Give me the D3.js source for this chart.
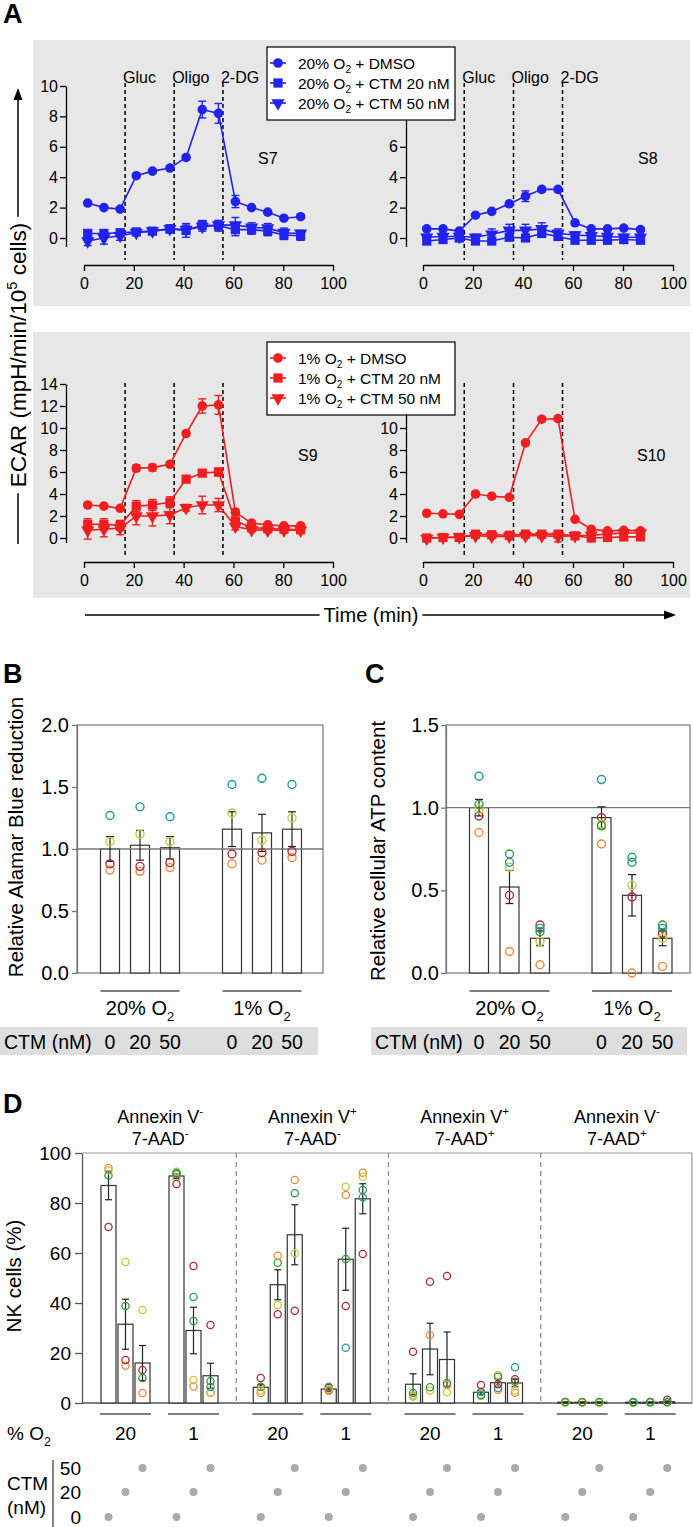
<!DOCTYPE html>
<html><head><meta charset="utf-8">
<script src="https://cdn.jsdelivr.net/npm/d3@7"></script>
<style>body{margin:0;background:#fff} svg{display:block;font-family:"Liberation Sans",Arial,Helvetica,sans-serif}</style>
</head><body><svg id="c" width="693" height="1527"></svg>
<script>
// ---------------- DATA ----------------
// Panel A (ECAR time course)
const times = [1.5, 8, 14.5, 21, 27.5, 34.5, 41, 47.5, 54, 60.8, 67.3, 73.8, 80.3, 87];
const injTimes = [16.5, 36.2, 55.8];
const injNames = ["Gluc", "Oligo", "2-DG"];
const xTicksA = [0, 20, 40, 60, 80, 100];
const yTicksTopLeft = [0, 2, 4, 6, 8, 10];
const yTicksTopRight = [0, 2, 4, 6];          // 8 and 10 sit under the legend
const yTicksBottomLeft = [0, 2, 4, 6, 8, 10, 12, 14];
const yTicksBottomRight = [0, 2, 4, 6, 8, 10]; // 12 and 14 sit under the legend
const legendSuffix = [" + DMSO", " + CTM 20 nM", " + CTM 50 nM"];

const s7Dmso = [2.3, 2.0, 1.9, 4.1, 4.4, 4.6, 5.3, 8.45, 8.2, 2.4, 2.0, 1.7, 1.3, 1.4];
const s7DmsoErr = [0.1, 0.1, 0.1, 0.1, 0.1, 0.1, 0.15, 0.55, 0.65, 0.4, 0.1, 0.1, 0.1, 0.1];
const s7Ctm20 = [0.3, 0.3, 0.35, 0.4, 0.45, 0.6, 0.5, 0.85, 0.8, 0.55, 0.55, 0.45, 0.2, 0.15];
const s7Ctm20Err = [0.25, 0.25, 0.2, 0.15, 0.2, 0.25, 0.45, 0.3, 0.35, 0.4, 0.3, 0.3, 0.3, 0.3];
const s7Ctm50 = [-0.2, 0.0, 0.15, 0.35, 0.45, 0.6, 0.55, 0.75, 0.85, 0.85, 0.7, 0.65, 0.35, 0.3];
const s7Ctm50Err = [0.3, 0.4, 0.3, 0.15, 0.2, 0.25, 0.3, 0.3, 0.3, 0.5, 0.3, 0.3, 0.3, 0.2];

const s8Dmso = [0.6, 0.6, 0.45, 1.5, 1.75, 2.25, 2.75, 3.2, 3.2, 1.0, 0.6, 0.6, 0.65, 0.55];
const s8DmsoErr = [0.1, 0.1, 0.1, 0.1, 0.1, 0.15, 0.35, 0.15, 0.15, 0.15, 0.1, 0.1, 0.1, 0.1];
const s8Ctm20 = [-0.2, -0.1, 0.0, -0.2, -0.2, 0.05, 0.0, 0.3, 0.1, -0.15, -0.15, -0.15, -0.1, -0.15];
const s8Ctm20Err = [0.2, 0.2, 0.2, 0.2, 0.2, 0.2, 0.2, 0.25, 0.2, 0.2, 0.2, 0.2, 0.2, 0.2];
const s8Ctm50 = [0.05, 0.1, 0.1, 0.05, 0.25, 0.5, 0.5, 0.6, 0.3, 0.2, 0.15, 0.1, 0.05, 0.05];
const s8Ctm50Err = [0.2, 0.2, 0.2, 0.2, 0.35, 0.4, 0.4, 0.4, 0.3, 0.2, 0.2, 0.2, 0.2, 0.2];

const s9Dmso = [3.0, 2.9, 2.7, 6.35, 6.4, 6.7, 9.5, 12.0, 12.1, 2.35, 1.35, 1.2, 1.1, 1.1];
const s9DmsoErr = [0.15, 0.15, 0.15, 0.3, 0.3, 0.2, 0.2, 0.65, 0.85, 0.3, 0.2, 0.2, 0.2, 0.2];
const s9Ctm20 = [1.25, 1.25, 1.15, 2.9, 3.0, 3.25, 5.35, 5.9, 6.0, 1.55, 0.95, 0.85, 0.8, 0.75];
const s9Ctm20Err = [0.5, 0.5, 0.45, 0.5, 0.5, 0.5, 0.3, 0.3, 0.35, 0.3, 0.2, 0.2, 0.2, 0.2];
const s9Ctm50 = [0.7, 0.8, 0.9, 2.0, 2.0, 2.1, 2.75, 3.0, 3.0, 1.05, 0.75, 0.7, 0.7, 0.7];
const s9Ctm50Err = [0.8, 0.7, 0.6, 0.8, 0.9, 0.8, 0.3, 0.8, 0.6, 0.3, 0.2, 0.2, 0.2, 0.2];

const s10Dmso = [2.25, 2.2, 2.15, 4.0, 3.8, 3.7, 8.65, 10.8, 10.85, 1.7, 0.8, 0.65, 0.7, 0.65];
const s10DmsoErr = [0.1, 0.1, 0.1, 0.15, 0.15, 0.15, 0.2, 0.2, 0.2, 0.15, 0.1, 0.1, 0.1, 0.1];
const s10Ctm20 = [0.0, 0.05, 0.05, 0.35, 0.3, 0.25, 0.35, 0.35, 0.35, 0.2, 0.0, 0.05, 0.1, 0.1];
const s10Ctm20Err = [0.15, 0.15, 0.15, 0.15, 0.15, 0.15, 0.15, 0.15, 0.2, 0.15, 0.15, 0.15, 0.15, 0.15];
const s10Ctm50 = [-0.05, 0.05, 0.1, 0.2, 0.15, 0.15, 0.2, 0.2, 0.15, 0.2, 0.25, 0.35, 0.45, 0.45];
const s10Ctm50Err = [0.15, 0.15, 0.15, 0.15, 0.15, 0.15, 0.15, 0.2, 0.5, 0.15, 0.15, 0.15, 0.15, 0.15];

// Panels B & C
const oxyGroups = ["20", "1"];
const ctmLevels = ["0", "20", "50"];
const bMean = [1.00, 1.03, 1.01, 1.16, 1.13, 1.16];
const bSem = [0.10, 0.12, 0.09, 0.14, 0.15, 0.14];
const bTeal = [1.27, 1.34, 1.26, 1.52, 1.57, 1.52];
const bYellow = [1.06, 1.12, 1.06, 1.29, 1.07, 1.25];
const bRed = [0.88, 0.86, 0.89, 0.96, 0.97, 0.98];
const bOrange = [0.83, 0.82, 0.85, 0.88, 0.91, 0.93];
const bTicks = [0, 0.5, 1.0, 1.5, 2.0];

const cMean = [1.00, 0.52, 0.21, 0.94, 0.47, 0.21];
const cSem = [0.05, 0.10, 0.045, 0.065, 0.125, 0.045];
const cTeal = [1.19, 0.67, 0.27, 1.17, 0.70, 0.27];
const cGreen = [1.02, 0.72, 0.25, 0.89, 0.67, 0.29];
const cYellow = [0.99, 0.64, 0.19, 0.90, 0.53, 0.21];
const cRed = [0.95, 0.47, 0.29, 0.94, 0.46, 0.24];
const cOrange = [0.85, 0.13, 0.05, 0.78, 0.00, 0.04];
const cTicks = [0, 0.5, 1.0, 1.5];

// Panel D (4 gates x [20%: 0,20,50 ; 1%: 0,20,50])
const dTicks = [0, 20, 40, 60, 80, 100];
const dMeanLive = [87, 31.5, 16, 90.8, 29, 10.9];
const dSemLive = [5.7, 10, 7, 1, 9.3, 5];
const dRedLive = [70.4, 17.2, 13.2, 87.6, 54.8, 31.2];
const dOrangeLive = [94, 14.9, 4, 90.4, 6.6, 4.2];
const dYellowLive = [93, 56.4, 37.2, 92.5, 9.2, 4];
const dGreenLive = [91, 38.8, 10, 92, 32.8, 8.7];
const dTealLive = [null, null, null, 91.5, 42.4, 6.4];

const dMeanEarly = [6.3, 47.3, 67.3, 5.6, 57.5, 81.7];
const dSemEarly = [1, 6, 12, 0.6, 12.4, 6];
const dRedEarly = [10, 35.5, 36.9, 6, 38.8, 59.6];
const dOrangeEarly = [4, 58.9, 89.2, 5, 83.2, 92.1];
const dYellowEarly = [5, 39.2, 59.9, 5.5, 86.5, 90.5];
const dGreenEarly = [6.5, 56.1, 83.9, 5, 57.6, 85.2];
const dTealEarly = [null, null, null, 6.5, 22.1, 82.3];

const dMeanLate = [7.5, 21.6, 17.4, 4.3, 8.1, 8.0];
const dSemLate = [4.2, 10.3, 11, 0.8, 1.5, 1.5];
const dRedLate = [20.5, 48.5, 50.8, 7.2, 7.5, 9.5];
const dOrangeLate = [3, 27.2, 7.2, 3.3, 5.3, 4.1];
const dYellowLate = [2.5, 5, 4.3, 3.5, 11.2, 5];
const dGreenLate = [4, 6.3, 8, 3, 10.5, 8.5];
const dTealLate = [null, null, null, 4.5, 6, 14.3];

const dMeanDead = [0.3, 0.3, 0.3, 0.3, 0.3, 0.5];
const dSemDead = [0.1, 0.1, 0.1, 0.1, 0.1, 0.3];
const dRedDead = [0.4, 0.3, 0.3, 0.3, 0.3, 1.3];
const dOrangeDead = [0.2, 0.2, 0.2, 0.2, 0.2, 0.3];
const dYellowDead = [0.2, 0.3, 0.2, 0.2, 0.3, 0.3];
const dGreenDead = [0.4, 0.4, 0.4, 0.3, 0.4, 0.4];
const dTealDead = [null, null, null, 0.4, 0.4, 0.4];

const dHeadSign1 = ["-", "+", "+", "-"];
const dHeadSign2 = ["-", "-", "+", "+"];

// ---------------- DRAWING ----------------
const BLUE = "#2222ee", RED = "#f01e1e";
const TEAL = "#23999a", GREEN = "#2e9a3e", YELLOW = "#c9c73a", DRED = "#b02a30", ORANGE = "#f0883a";
const svg = d3.select("#c");
svg.append("rect").attr("width", 693).attr("height", 1527).attr("fill", "#fff");

function rich(t, parts, fs) {
  let cur = 0;
  parts.forEach(p => {
    const [s, k] = Array.isArray(p) ? p : [p, null];
    const off = k === "sub" ? 0.3 * fs : k === "sup" ? -0.42 * fs : 0;
    const ts = t.append("tspan").text(s).attr("dy", off - cur);
    if (k) ts.attr("font-size", fs * 0.65);
    cur = off;
  });
  return t;
}
function styleAxis(g, fs, col, tcol) {
  g.attr("font-family", null).attr("font-size", null);
  g.selectAll("text").attr("font-size", fs).attr("fill", tcol || "#000");
  g.selectAll("line,path").attr("stroke", col).attr("stroke-width", 1.3);
}
function label(x, y, txt, fs, bold) {
  return svg.append("text").attr("x", x).attr("y", y).attr("font-size", fs)
    .attr("font-weight", bold ? "bold" : null).text(txt);
}

// ---- Panel A ----
label(3, 23, "A", 27, true);
[40, 332].forEach(y0 => svg.append("rect").attr("x", 33).attr("y", y0).attr("width", 657).attr("height", 266).attr("fill", "#e7e7e7"));

const symPath = {
  circ: d3.symbol(d3.symbolCircle, 72)(),
  sq: d3.symbol(d3.symbolSquare, 85)(),
  tri: d3.symbol(d3.symbolTriangle, 76)()
};

function ecarChart(c) {
  const x = d3.scaleLinear().domain([0, 100]).range(c.xr);
  const y = d3.scaleLinear().domain(c.yd).range(c.yr);
  const g = svg.append("g");
  const xa = g.append("g").attr("transform", `translate(0,${c.xAxisY})`)
    .call(d3.axisBottom(x).tickValues(xTicksA).tickSize(6).tickPadding(7).tickSizeOuter(0));
  styleAxis(xa, 16, "#000");
  const ys = y.copy().domain([c.yMin, c.yd[1]]).range([y(c.yMin), y(c.yd[1])]);
  const ya = g.append("g").attr("transform", `translate(${c.yAxisX},0)`)
    .call(d3.axisLeft(ys).tickValues(c.yTicks).tickSize(6).tickPadding(2).tickSizeOuter(0));
  styleAxis(ya, 16, "#000");
  injTimes.forEach((t, i) => {
    g.append("line").attr("x1", x(t)).attr("x2", x(t)).attr("y1", c.dashTop).attr("y2", c.dashBot)
      .attr("stroke", "#000").attr("stroke-width", 1.5).attr("stroke-dasharray", "4,3");
    if (c.injLabels) g.append("text").attr("x", x(t) - 2).attr("y", 83).attr("font-size", 16).text(injNames[i]);
  });
  const sers = [
    { v: c.ctm50, e: c.ctm50Err, sym: "tri" },
    { v: c.ctm20, e: c.ctm20Err, sym: "sq" },
    { v: c.dmso, e: c.dmsoErr, sym: "circ" }];
  sers.forEach(s => {
    const pts = times.map((t, i) => ({ t, v: s.v[i], e: s.e[i] }));
    g.append("path").datum(pts).attr("fill", "none").attr("stroke", c.color).attr("stroke-width", 1.6)
      .attr("d", d3.line().x(d => x(d.t)).y(d => y(d.v)));
    const eb = g.append("g").attr("stroke", c.color).attr("stroke-width", 1.4);
    pts.forEach(d => {
      eb.append("line").attr("x1", x(d.t)).attr("x2", x(d.t)).attr("y1", y(d.v - d.e)).attr("y2", y(d.v + d.e));
      [d.v - d.e, d.v + d.e].forEach(vv => eb.append("line").attr("x1", x(d.t) - 4).attr("x2", x(d.t) + 4).attr("y1", y(vv)).attr("y2", y(vv)));
    });
    g.append("g").selectAll("path").data(pts).join("path")
      .attr("transform", d => `translate(${x(d.t)},${y(d.v)})${s.sym === "tri" ? " rotate(180)" : ""}`)
      .attr("d", symPath[s.sym]).attr("fill", c.color);
  });
  g.append("text").attr("x", c.labelX).attr("y", c.labelY).attr("font-size", 16).text(c.label);
}

const topCfg = { yd: [0, 10], yr: [238, 86], yMin: -0.55, xAxisY: 265, dashTop: 83, dashBot: 260, injLabels: true, labelY: 164, color: BLUE };
const botCfg = { yd: [0, 14], yr: [538, 384], yMin: -0.4, xAxisY: 562, dashTop: 383, dashBot: 558, injLabels: false, labelY: 461, color: RED };
ecarChart(Object.assign({}, topCfg, { xr: [84, 333], yAxisX: 66, yTicks: yTicksTopLeft, labelX: 258, label: "S7", dmso: s7Dmso, dmsoErr: s7DmsoErr, ctm20: s7Ctm20, ctm20Err: s7Ctm20Err, ctm50: s7Ctm50, ctm50Err: s7Ctm50Err }));
ecarChart(Object.assign({}, topCfg, { xr: [423, 673], yAxisX: 406, yTicks: yTicksTopRight, labelX: 638, label: "S8", dmso: s8Dmso, dmsoErr: s8DmsoErr, ctm20: s8Ctm20, ctm20Err: s8Ctm20Err, ctm50: s8Ctm50, ctm50Err: s8Ctm50Err }));
ecarChart(Object.assign({}, botCfg, { xr: [84, 333], yAxisX: 66, yTicks: yTicksBottomLeft, labelX: 298, label: "S9", dmso: s9Dmso, dmsoErr: s9DmsoErr, ctm20: s9Ctm20, ctm20Err: s9Ctm20Err, ctm50: s9Ctm50, ctm50Err: s9Ctm50Err }));
ecarChart(Object.assign({}, botCfg, { xr: [423, 673], yAxisX: 406, yTicks: yTicksBottomRight, labelX: 637, label: "S10", dmso: s10Dmso, dmsoErr: s10DmsoErr, ctm20: s10Ctm20, ctm20Err: s10Ctm20Err, ctm50: s10Ctm50, ctm50Err: s10Ctm50Err }));

function legendBox(x, y, pct, color) {
  const g = svg.append("g");
  g.append("rect").attr("x", x).attr("y", y).attr("width", 188).attr("height", 73)
    .attr("fill", "#fff").attr("stroke", "#000").attr("stroke-width", 1.2);
  ["circ", "sq", "tri"].forEach((s, i) => {
    const cy = y + 16 + i * 20;
    g.append("line").attr("x1", x + 3).attr("x2", x + 19).attr("y1", cy).attr("y2", cy).attr("stroke", color).attr("stroke-width", 1.6);
    g.append("path").attr("d", symPath[s]).attr("fill", color)
      .attr("transform", `translate(${x + 11},${cy})${s === "tri" ? " rotate(180)" : ""}`);
    const t = g.append("text").attr("x", x + 31).attr("y", cy + 5.5).attr("font-size", 15.5);
    rich(t, [pct + "% O", ["2", "sub"], legendSuffix[i]], 15.5);
  });
}
legendBox(267, 47, "20", BLUE);
legendBox(267, 342, "1", RED);

// ECAR axis label with arrow
(function () {
  const cx = 18, cy = 355;
  const t = svg.append("text").attr("transform", `translate(${cx + 8},${cy}) rotate(-90)`).attr("text-anchor", "middle").attr("font-size", 22.5);
  rich(t, ["ECAR (mpH/min/10", ["5", "sup"], " cells)"], 22.5);
  const L = t.node().getComputedTextLength();
  svg.append("line").attr("x1", cx).attr("x2", cx).attr("y1", 544).attr("y2", cy + L / 2 + 6).attr("stroke", "#000").attr("stroke-width", 1.5);
  svg.append("line").attr("x1", cx).attr("x2", cx).attr("y1", cy - L / 2 - 6).attr("y2", 98).attr("stroke", "#000").attr("stroke-width", 1.5);
  svg.append("path").attr("d", `M${cx},88 L${cx - 4.5},100 L${cx + 4.5},100 Z`).attr("fill", "#000");
  const tx = 371, ty = 615;
  const t2 = svg.append("text").attr("x", tx).attr("y", ty + 7).attr("text-anchor", "middle").attr("font-size", 20).text("Time (min)");
  const L2 = t2.node().getComputedTextLength();
  svg.append("line").attr("x1", 85).attr("x2", tx - L2 / 2 - 4).attr("y1", ty).attr("y2", ty).attr("stroke", "#000").attr("stroke-width", 1.5);
  svg.append("line").attr("x1", tx + L2 / 2 + 4).attr("x2", 666).attr("y1", ty).attr("y2", ty).attr("stroke", "#000").attr("stroke-width", 1.5);
  svg.append("path").attr("d", `M676,${ty} L664,${ty - 4.5} L664,${ty + 4.5} Z`).attr("fill", "#000");
})();

// ---- Panels B & C ----
function barPanel(c) {
  const y = d3.scaleLinear().domain([0, c.ymax]).range([973, 725]);
  const gx = d3.scalePoint().domain(oxyGroups).range(c.groupRange);
  const cxs = d3.scalePoint().domain(ctmLevels).range([-c.pitch, c.pitch]);
  const bx = i => gx(oxyGroups[Math.floor(i / 3)]) + cxs(ctmLevels[i % 3]);
  const g = svg.append("g");
  label(c.labelPos[0], c.labelPos[1], c.letter, 27, true);
  g.append("rect").attr("x", c.x0).attr("y", y(c.ymax)).attr("width", c.x1 - c.x0).attr("height", y(0) - y(c.ymax))
    .attr("fill", "none").attr("stroke", "#777").attr("stroke-width", 1.2);
  const ya = g.append("g").attr("transform", `translate(${c.x0},0)`)
    .call(d3.axisLeft(y).tickValues(c.ticks).tickFormat(d3.format(".1f")).tickSize(5).tickPadding(c.pad).tickSizeOuter(0));
  styleAxis(ya, 20, "#777");
  const bw = 19;
  c.mean.forEach((m, i) => {
    g.append("rect").attr("x", bx(i) - bw / 2).attr("y", y(m)).attr("width", bw).attr("height", y(0) - y(m))
      .attr("fill", "#fff").attr("stroke", "#333").attr("stroke-width", 1.2);
  });
  g.append("line").attr("x1", c.x0).attr("x2", c.x1).attr("y1", y(1)).attr("y2", y(1)).attr("stroke", "#777").attr("stroke-width", 1.3);
  c.mean.forEach((m, i) => {
    const e = c.sem[i], X = bx(i);
    g.append("line").attr("x1", X).attr("x2", X).attr("y1", y(m - e)).attr("y2", y(m + e)).attr("stroke", "#222").attr("stroke-width", 1.2);
    [m - e, m + e].forEach(v => g.append("line").attr("x1", X - 4).attr("x2", X + 4).attr("y1", y(v)).attr("y2", y(v)).attr("stroke", "#222").attr("stroke-width", 1.2));
  });
  c.donors.forEach(([vals, col]) => {
    g.append("g").selectAll("circle").data(vals.map((v, i) => ({ v, i })).filter(d => d.v != null)).join("circle")
      .attr("cx", d => bx(d.i)).attr("cy", d => y(d.v)).attr("r", 4).attr("fill", "none")
      .attr("stroke", col).attr("stroke-width", 1.4);
  });
  oxyGroups.forEach((o, gi) => {
    const gc = gx(o);
    g.append("line").attr("x1", bx(gi * 3) - bw / 2).attr("x2", bx(gi * 3 + 2) + bw / 2).attr("y1", 991).attr("y2", 991)
      .attr("stroke", "#555").attr("stroke-width", 1.5);
    const t = g.append("text").attr("x", gc).attr("y", 1015).attr("text-anchor", "middle").attr("font-size", 20);
    rich(t, [o + "% O", ["2", "sub"]], 20);
  });
  g.append("rect").attr("x", c.band[0]).attr("y", 1027).attr("width", c.band[1] - c.band[0]).attr("height", 28).attr("fill", "#dedede");
  g.append("text").attr("x", c.band[0] + 4).attr("y", 1049).attr("font-size", 19.5).text("CTM (nM)");
  c.mean.forEach((m, i) => g.append("text").attr("x", bx(i)).attr("y", 1049).attr("text-anchor", "middle").attr("font-size", 19.5).text(ctmLevels[i % 3]));
  g.append("text").attr("transform", `translate(${c.ylab[0]},${c.ylab[1]}) rotate(-90)`).attr("text-anchor", "middle").attr("font-size", 20.5).text(c.ytitle);
}
barPanel({
  letter: "B", labelPos: [3, 683], ymax: 2, ticks: bTicks, x0: 77, x1: 323, pad: 3, groupRange: [140, 262], pitch: 30,
  mean: bMean, sem: bSem, donors: [[bOrange, ORANGE], [bRed, DRED], [bYellow, YELLOW], [bTeal, TEAL]],
  band: [0, 318], ylab: [23, 837], ytitle: "Relative Alamar Blue reduction"
});
barPanel({
  letter: "C", labelPos: [365, 683], ymax: 1.5, ticks: cTicks, x0: 446, x1: 690, pad: 2, groupRange: [509.5, 632], pitch: 30.5,
  mean: cMean, sem: cSem, donors: [[cOrange, ORANGE], [cRed, DRED], [cYellow, YELLOW], [cGreen, GREEN], [cTeal, TEAL]],
  band: [371, 687], ylab: [385, 851], ytitle: "Relative cellular ATP content"
});

// ---- Panel D ----
(function () {
  label(3, 1113, "D", 27, true);
  const y = d3.scaleLinear().domain([0, 100]).range([1403, 1153]);
  const sec = d3.scaleBand().domain(d3.range(4)).range([84, 693]);
  const grp = d3.scalePoint().domain(oxyGroups).range([41.5, 109.5]);
  const ctm = d3.scalePoint().domain(ctmLevels).range([-17, 17]);
  const bx = (s, i) => sec(s) + grp(oxyGroups[Math.floor(i / 3)]) + ctm(ctmLevels[i % 3]);
  const g = svg.append("g");
  g.append("line").attr("x1", 82).attr("x2", 692).attr("y1", 1153).attr("y2", 1153).attr("stroke", "#999").attr("stroke-width", 1.2);
  g.append("line").attr("x1", 692).attr("x2", 692).attr("y1", 1153).attr("y2", 1403).attr("stroke", "#999").attr("stroke-width", 1.2);
  g.append("line").attr("x1", 82).attr("x2", 692).attr("y1", 1403).attr("y2", 1403).attr("stroke", "#555").attr("stroke-width", 1.3);
  const ya = g.append("g").attr("transform", "translate(82,0)")
    .call(d3.axisLeft(y).tickValues(dTicks).tickSize(7).tickPadding(4).tickSizeOuter(0));
  styleAxis(ya, 19, "#555");
  [1, 2, 3].forEach(s => g.append("line").attr("x1", sec(s)).attr("x2", sec(s)).attr("y1", 1153).attr("y2", 1403)
    .attr("stroke", "#888").attr("stroke-width", 1.2).attr("stroke-dasharray", "5,4"));
  d3.range(4).forEach(s => {
    const cx = sec(s) + sec.bandwidth() / 2;
    rich(g.append("text").attr("x", cx).attr("y", 1123).attr("text-anchor", "middle").attr("font-size", 18),
      ["Annexin V", [dHeadSign1[s], "sup"]], 18);
    rich(g.append("text").attr("x", cx).attr("y", 1145).attr("text-anchor", "middle").attr("font-size", 18),
      ["7-AAD", [dHeadSign2[s], "sup"]], 18);
  });
  const gates = [
    [dMeanLive, dSemLive, [[dOrangeLive, ORANGE], [dYellowLive, YELLOW], [dRedLive, DRED], [dTealLive, TEAL], [dGreenLive, GREEN]]],
    [dMeanEarly, dSemEarly, [[dRedEarly, DRED], [dTealEarly, TEAL], [dGreenEarly, GREEN], [dYellowEarly, YELLOW], [dOrangeEarly, ORANGE]]],
    [dMeanLate, dSemLate, [[dOrangeLate, ORANGE], [dYellowLate, YELLOW], [dGreenLate, GREEN], [dTealLate, TEAL], [dRedLate, DRED]]],
    [dMeanDead, dSemDead, [[dRedDead, DRED], [dOrangeDead, ORANGE], [dYellowDead, YELLOW], [dTealDead, TEAL], [dGreenDead, GREEN]]]
  ];
  const bw = 15;
  gates.forEach(([mean, sem, donors], s) => {
    mean.forEach((m, i) => {
      const X = bx(s, i);
      g.append("rect").attr("x", X - bw / 2).attr("y", y(m)).attr("width", bw).attr("height", Math.max(0, y(0) - y(m)))
        .attr("fill", "#fff").attr("stroke", "#333").attr("stroke-width", 1.2);
    });
    mean.forEach((m, i) => {
      const X = bx(s, i), e = sem[i];
      g.append("line").attr("x1", X).attr("x2", X).attr("y1", y(Math.max(0, m - e))).attr("y2", y(m + e)).attr("stroke", "#222").attr("stroke-width", 1.2);
      [Math.max(0, m - e), m + e].forEach(v => g.append("line").attr("x1", X - 3.5).attr("x2", X + 3.5).attr("y1", y(v)).attr("y2", y(v)).attr("stroke", "#222").attr("stroke-width", 1.2));
    });
    donors.forEach(([vals, col]) => {
      g.append("g").selectAll("circle").data(vals.map((v, i) => ({ v, i })).filter(d => d.v != null)).join("circle")
        .attr("cx", d => bx(s, d.i)).attr("cy", d => y(d.v)).attr("r", 3.6).attr("fill", "none")
        .attr("stroke", col).attr("stroke-width", 1.3);
    });
    oxyGroups.forEach((o, gi) => {
      g.append("line").attr("x1", bx(s, gi * 3) - bw / 2 - 1).attr("x2", bx(s, gi * 3 + 2) + bw / 2 + 1)
        .attr("y1", 1414).attr("y2", 1414).attr("stroke", "#555").attr("stroke-width", 1.4);
      g.append("text").attr("x", bx(s, gi * 3 + 1)).attr("y", 1440).attr("text-anchor", "middle").attr("font-size", 19).text(o);
      [0, 1, 2].forEach(ci => {
        const ry = [1517, 1492, 1468][ci];
        g.append("circle").attr("cx", bx(s, gi * 3 + ci)).attr("cy", ry).attr("r", 4).attr("fill", "#aaa");
      });
    });
  });
  rich(g.append("text").attr("x", 7).attr("y", 1440).attr("font-size", 19), ["% O", ["2", "sub"]], 19);
  g.append("text").attr("x", 7).attr("y", 1490).attr("font-size", 19).text("CTM");
  g.append("text").attr("x", 7).attr("y", 1514).attr("font-size", 19).text("(nM)");
  g.append("line").attr("x1", 53).attr("x2", 53).attr("y1", 1460).attr("y2", 1527).attr("stroke", "#333").attr("stroke-width", 1.2);
  ["0", "20", "50"].forEach((t, ci) => g.append("text").attr("x", 81).attr("y", [1517, 1492, 1468][ci] + 7)
    .attr("text-anchor", "end").attr("font-size", 19).text(t));
  g.append("text").attr("transform", "translate(21,1276) rotate(-90)").attr("text-anchor", "middle").attr("font-size", 20.5).text("NK cells (%)");
})();
</script></body></html>
